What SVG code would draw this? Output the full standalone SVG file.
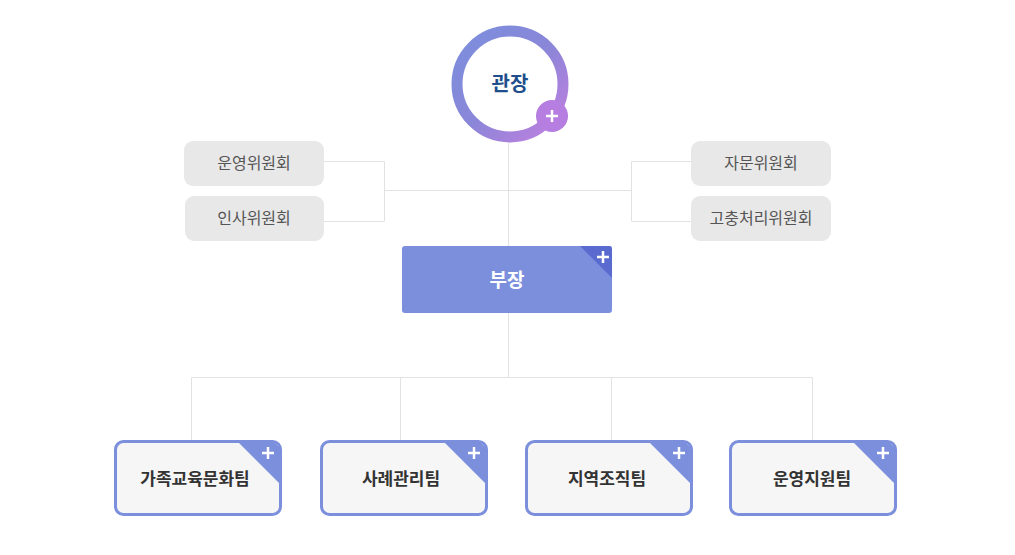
<svg xmlns="http://www.w3.org/2000/svg" width="1015" height="555" viewBox="0 0 1015 555">
<defs>
<linearGradient id="ring" x1="0" y1="0" x2="1" y2="1">
<stop offset="0" stop-color="#7b8fdd"/><stop offset="0.5" stop-color="#8a86d8"/><stop offset="1" stop-color="#c27fe0"/>
</linearGradient>
<style>
.ln{stroke:#e2e2e2;stroke-width:1;fill:none}
.cm rect{fill:#e8e8e8}
.cm text{font-family:"Noto Sans CJK KR","Noto Sans",sans-serif;font-size:16px;fill:#555;text-anchor:middle}
.tm rect{fill:#f6f6f6;stroke:#7b8fdd;stroke-width:3}
.tm polygon{fill:#7b8fdd}
.tm text{font-family:"Noto Sans CJK KR","Noto Sans",sans-serif;font-size:17px;font-weight:bold;fill:#333;text-anchor:middle}
.pl{stroke:#fff;stroke-width:2.5;fill:none}
</style>
</defs>
<rect width="1015" height="555" fill="#fff"/>
<g id="connectors">
<path class="ln" d="M508.5 141V377M384.5 190.5H631.5M324 161.5H384.5V221.5H324M691 161.5H631.5V221.5H691M191.5 441V377.5H812.5V441M400.5 377V441M611.5 377V441"/>
</g>
<g id="n-director">
<circle cx="510" cy="84" r="53" fill="#fff" stroke="url(#ring)" stroke-width="11"/>
<text x="510" y="91" font-family="Noto Sans CJK KR,Noto Sans,sans-serif" font-size="20" font-weight="bold" fill="#1f4e8c" text-anchor="middle">관장</text>
<circle cx="552" cy="116" r="16" fill="#b67ee0"/>
<path class="pl" d="M546 116H558M552 110V122"/>
</g>
<g id="n-deputy">
<rect x="402" y="246" width="210" height="67" rx="3" fill="#7b8fdd"/>
<path d="M580 246H609A3 3 0 0 1 612 249V278Z" fill="#5a6bd0"/>
<path class="pl" d="M597 257H609M603 251V263"/>
<text x="507" y="287" font-family="Noto Sans CJK KR,Noto Sans,sans-serif" font-size="19" font-weight="bold" fill="#fff" text-anchor="middle">부장</text>
</g>
<g id="n-c1" class="cm"><rect x="184" y="141" width="140" height="45" rx="9"/><text x="254" y="169">운영위원회</text></g>
<g id="n-c2" class="cm"><rect x="185" y="196" width="139" height="45" rx="9"/><text x="254" y="224">인사위원회</text></g>
<g id="n-c3" class="cm"><rect x="691" y="141" width="140" height="45" rx="9"/><text x="761" y="169">자문위원회</text></g>
<g id="n-c4" class="cm"><rect x="691" y="196" width="140" height="45" rx="9"/><text x="761" y="224">고충처리위원회</text></g>
<g id="n-t1" class="tm"><rect x="115.5" y="441.5" width="165" height="73" rx="8"/><polygon points="237,441 273,441 281,449 281,485"/><path class="pl" d="M262 453H274M268 447V459"/><text x="195" y="485">가족교육문화팀</text></g>
<g id="n-t2" class="tm"><rect x="321.5" y="441.5" width="165" height="73" rx="8"/><polygon points="443,441 479,441 487,449 487,485"/><path class="pl" d="M468 453H480M474 447V459"/><text x="401" y="485">사례관리팀</text></g>
<g id="n-t3" class="tm"><rect x="526.5" y="441.5" width="165" height="73" rx="8"/><polygon points="648,441 684,441 692,449 692,485"/><path class="pl" d="M673 453H685M679 447V459"/><text x="607" y="485">지역조직팀</text></g>
<g id="n-t4" class="tm"><rect x="730.5" y="441.5" width="165" height="73" rx="8"/><polygon points="852,441 888,441 896,449 896,485"/><path class="pl" d="M877 453H889M883 447V459"/><text x="812" y="485">운영지원팀</text></g>
</svg>
